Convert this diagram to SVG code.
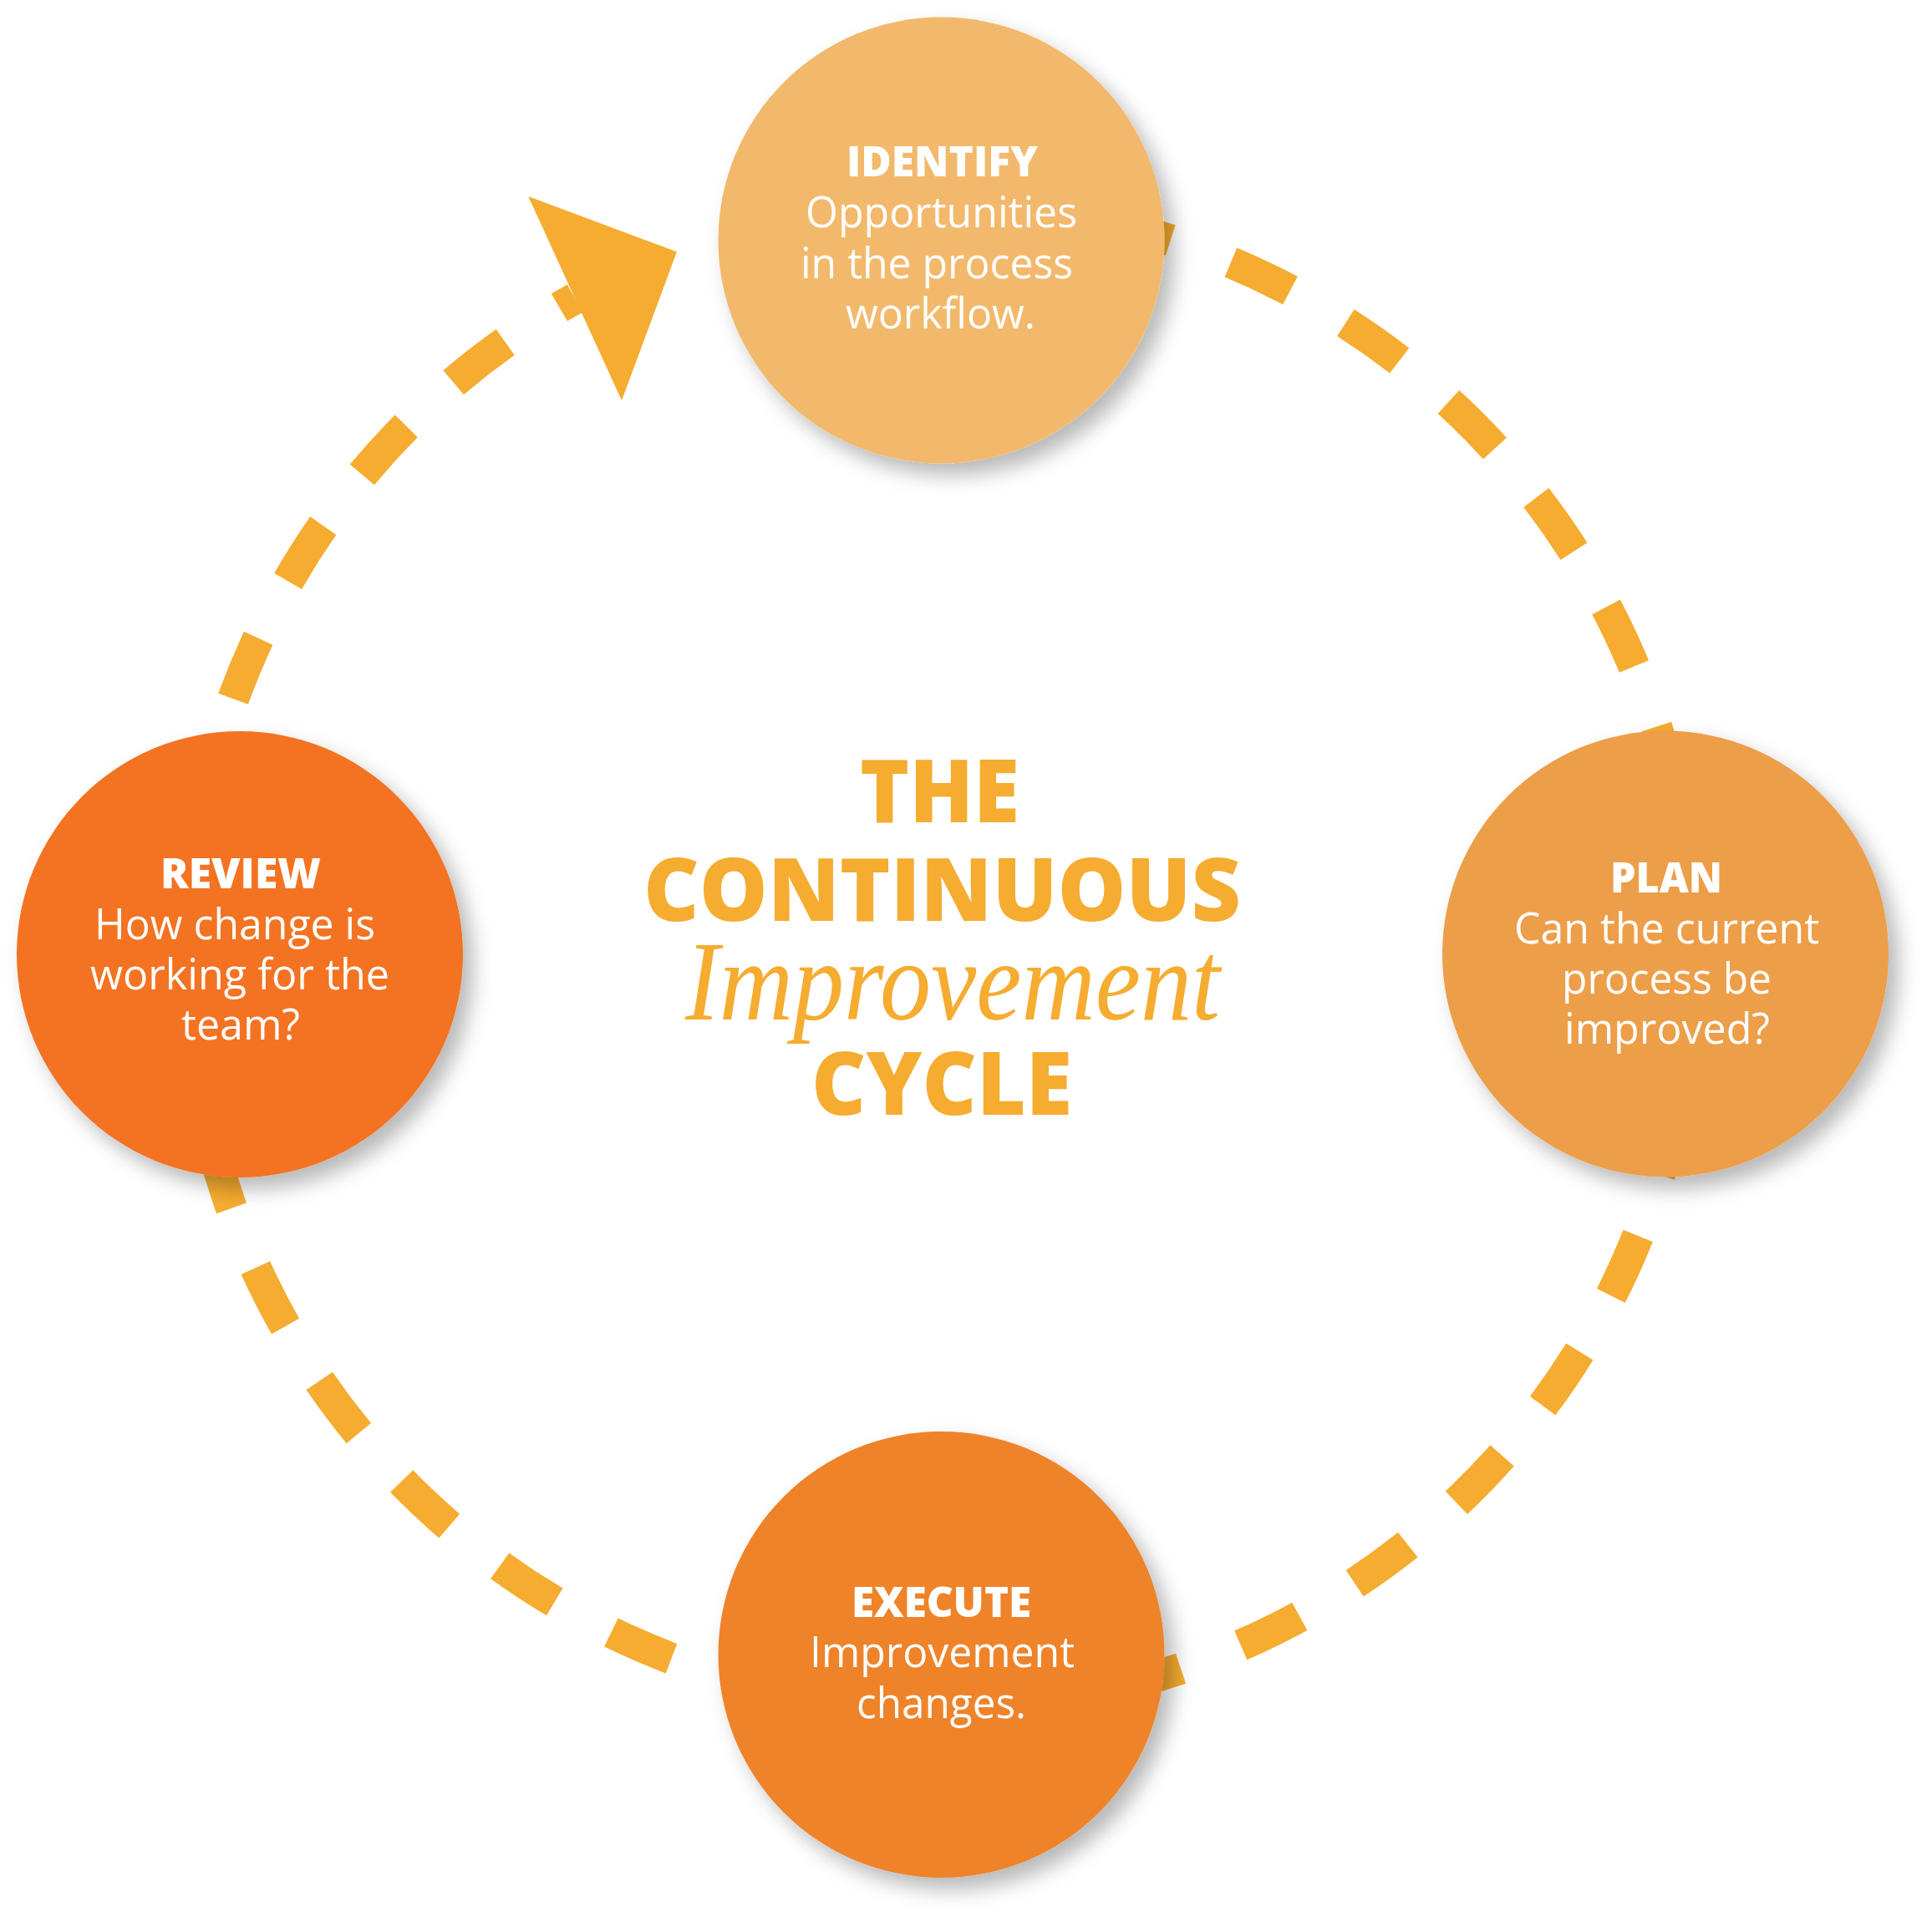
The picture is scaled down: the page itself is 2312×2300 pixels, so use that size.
<svg xmlns="http://www.w3.org/2000/svg" width="2312" height="2300" viewBox="0 0 2312 2300">
<defs>
<style>
.ring{fill:none;stroke:#F5AC30;stroke-width:38;stroke-dasharray:78.54 76.91;stroke-linecap:butt}
.node{filter:url(#shadow)}
.h{font-family:"Open Sans","Noto Sans","Liberation Sans",sans-serif;font-weight:800;font-size:50px;fill:#FFFFFF}
.b{font-family:"Open Sans","Noto Sans","Liberation Sans",sans-serif;font-weight:400;font-size:52px;fill:#FFFFFF}
.t{font-family:"Open Sans","Noto Sans","Liberation Sans",sans-serif;font-weight:800;font-size:104px;fill:#F5AC30}
.s{font-family:"Liberation Serif","DejaVu Serif",serif;font-style:italic;font-size:135px;fill:#F5AC30}
</style>
<filter id="shadow" x="-20%" y="-20%" width="150%" height="150%">
<feDropShadow dx="12" dy="14" stdDeviation="12" flood-color="#000000" flood-opacity="0.28"/>
</filter>
<marker id="arrowhead" markerUnits="userSpaceOnUse" orient="-24.6" refX="0" refY="0" markerWidth="300" markerHeight="300" overflow="visible">
<path d="M0,-134.3 L134,0 L0,134.3 Z" fill="#F5AC30"/>
</marker>
</defs>
<rect x="0" y="0" width="2312" height="2300" fill="#FFFFFF"/>
<g id="connectors">
<path id="cycle-ring" class="ring" d="M1325.2,266.6 A900,900 0 1 1 688.1,357.1" marker-end="url(#arrowhead)"/>
</g>
<g id="node-identify">
<circle class="node" cx="1126.5" cy="287.5" r="267" fill="#F2B96C"/>
<text class="h" x="1013" y="211" textLength="229" lengthAdjust="spacingAndGlyphs">IDENTIFY</text>
<text class="b" x="964" y="272" textLength="325" lengthAdjust="spacingAndGlyphs">Opportunities</text>
<text class="b" x="958" y="332.5" textLength="326" lengthAdjust="spacingAndGlyphs">in the process</text>
<text class="b" x="1012" y="393" textLength="227" lengthAdjust="spacingAndGlyphs">workflow.</text>
</g>
<g id="node-plan">
<circle class="node" cx="1993" cy="1141.5" r="267" fill="#ED9E48"/>
<text class="h" x="1927" y="1068" textLength="134" lengthAdjust="spacingAndGlyphs">PLAN</text>
<text class="b" x="1812" y="1129" textLength="365" lengthAdjust="spacingAndGlyphs">Can the current</text>
<text class="b" x="1869" y="1189" textLength="251" lengthAdjust="spacingAndGlyphs">process be</text>
<text class="b" x="1872" y="1249" textLength="246" lengthAdjust="spacingAndGlyphs">improved?</text>
</g>
<g id="node-execute">
<circle class="node" cx="1126.5" cy="1980" r="267" fill="#EE832A"/>
<text class="h" x="1019" y="1935" textLength="215" lengthAdjust="spacingAndGlyphs">EXECUTE</text>
<text class="b" x="969" y="1995" textLength="317" lengthAdjust="spacingAndGlyphs">Improvement</text>
<text class="b" x="1025" y="2056" textLength="203" lengthAdjust="spacingAndGlyphs">changes.</text>
</g>
<g id="node-review">
<circle class="node" cx="287" cy="1142" r="267" fill="#F37324"/>
<text class="h" x="192" y="1063" textLength="192" lengthAdjust="spacingAndGlyphs">REVIEW</text>
<text class="b" x="113" y="1124" textLength="336" lengthAdjust="spacingAndGlyphs">How change is</text>
<text class="b" x="108" y="1184" textLength="358" lengthAdjust="spacingAndGlyphs">working for the</text>
<text class="b" x="217" y="1244" textLength="142" lengthAdjust="spacingAndGlyphs">team?</text>
</g>
<g id="title">
<text class="t" x="1029" y="984" textLength="191" lengthAdjust="spacingAndGlyphs">THE</text>
<text class="t" x="770" y="1101.5" textLength="715" lengthAdjust="spacingAndGlyphs">CONTINUOUS</text>
<text class="s" x="820" y="1220" textLength="640" lengthAdjust="spacingAndGlyphs">Improvement</text>
<text class="t" x="971" y="1334" textLength="312" lengthAdjust="spacingAndGlyphs">CYCLE</text>
</g>
</svg>
